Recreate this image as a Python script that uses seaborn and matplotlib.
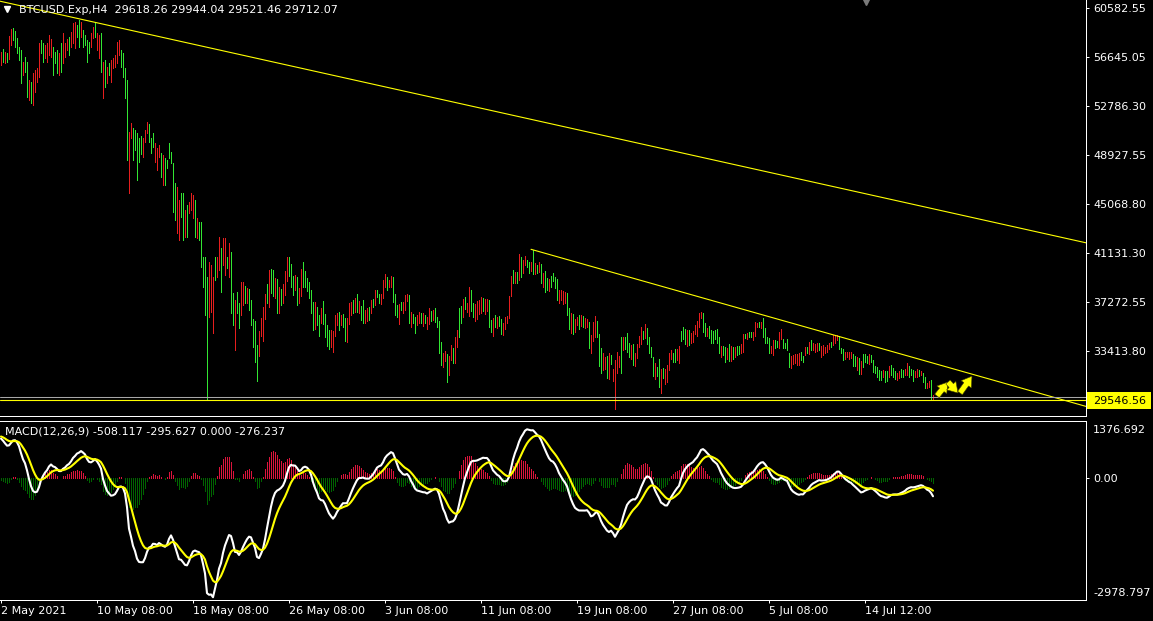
import numpy as np
import matplotlib
matplotlib.use("Agg")
import matplotlib.pyplot as plt
import seaborn as sns
from matplotlib.transforms import blended_transform_factory
from matplotlib.patches import Rectangle

# ---------------- data ----------------
symbol_text = "BTCUSD.Exp,H4  29618.26 29944.04 29521.46 29712.07"
macd_text = "MACD(12,26,9) -508.117 -295.627 0.000 -276.237"

bar_dir = ("RGRGRRGGGG" "GRGGRGRRRR" "GGRRRRGGGR" "GRRRGRRRGG" "RGGGGRRGRR"
           "GRGRGRRRRR" "GGGGRRGGGG" "GRRRGGGRRR" "GRGGGGGGRR" "GGRGRRRGRG"
           "GGGGRRRGRR" "GRRGRGGRGG" "RRGRGGGGGR" "RRRGRGGRGR" "GRRRGGGRGR"
           "RGGGGGGRGG" "RGGGGRRRRG" "RGGRRRGRGR" "GGRRGRGRGG" "RRRGRRGGGR"
           "GRRRGRGGRR" "GRGRRGRGGG" "GRRGRRGRRG" "GRGRRGGRRR" "RGRRGGRGRG"
           "GRRRRRGRGR" "GRRGGRGRGR" "GRGGRGGGGR" "RRRGGRGRRG" "RGRRGRRRGG"
           "GRRGRGRRRR" "GRGGGRGRRR" "RGRGGGGRGG" "RGRRRRGGRR" "GGGRGRRRRR"
           "RGGRGGGGGG" "RGGRGRGRGG" "RRGRGGRRRG" "RGGGGRRGGR" "RGGGGRRRRR"
           "GGRGRGRRRG" "RRRRRGRRRG" "GGRRRRGGRG" "RGGGRGGGGG" "GRGGRGGGRR"
           "GGRRGGGRRG" "RGGRRGR")

high = [57090, 57280, 57090, 57010, 58330, 58860, 58940, 58750, 58150, 57490,
        57220, 56300, 56690, 56300, 54850, 54710, 55370, 55640, 55770, 57750,
        58010, 57750, 57620, 57750, 58410, 58070, 57490, 57090, 57220, 56960,
        57750, 58540, 57750, 58070, 58280, 58670, 59330, 59470, 59200, 59600,
        59470, 58810, 58410, 58010, 57880, 58540, 59070, 59470, 58540, 58410,
        58540, 56300, 56430, 55900, 56170, 56430, 56560, 56830, 57880, 58010,
        57220, 56960, 55770, 54850, 50750, 51410, 51020, 50890, 50620, 50230,
        50410, 50230, 50890, 51550, 51360, 50230, 50620, 49830, 49430, 49700,
        49040, 48910, 48640, 48510, 49830, 49170, 48250, 46660, 46400, 45340,
        45870, 45870, 44550, 44950, 45210, 45870, 45740, 45340, 43890, 43630,
        43630, 40850, 40850, 39270, 40460, 40190, 39270, 40850, 40850, 42440,
        41510, 42310, 42310, 40850, 41910, 41250, 37950, 37420, 38080, 37160,
        38880, 38880, 38540, 38350, 38270, 37430, 35900, 35790, 33860, 35000,
        35980, 36900, 37900, 38690, 39800, 39860, 39800, 39140, 39060, 38480,
        38270, 38690, 39720, 40810, 40810, 40280, 39330, 39410, 39220, 38350,
        39860, 40410, 39720, 39140, 38830, 38220, 37300, 37240, 36850, 36240,
        36770, 37350, 36320, 35420, 35050, 35050, 35000, 36240, 36370, 36450,
        36240, 36320, 35980, 35980, 37220, 37300, 37430, 37560, 37900, 37370,
        36950, 37430, 36640, 36770, 36850, 37430, 37480, 38220, 38220, 37900,
        37900, 39010, 39490, 39280, 39010, 39330, 39280, 37900, 37030, 37110,
        37300, 37300, 37820, 37900, 37820, 36500, 36320, 36050, 36240, 36500,
        36370, 36370, 36240, 36050, 36770, 36580, 36640, 36770, 36050, 35790,
        34130, 33260, 33410, 33150, 32990, 33860, 33600, 34520, 35050, 36770,
        36950, 37480, 37640, 37220, 38480, 38220, 37220, 37110, 37370, 37430,
        37640, 37610, 37480, 37480, 37430, 35840, 35980, 36240, 36050, 36160,
        35900, 35580, 36110, 36160, 37740, 39330, 39800, 39670, 39670, 41070,
        40860, 40600, 40910, 40600, 40460, 40460, 41390, 40380, 40200, 40460,
        40280, 39540, 39720, 39140, 39060, 39330, 39590, 39220, 39060, 38220,
        38220, 38170, 38090, 38010, 36770, 36370, 36320, 35900, 36050, 36240,
        36240, 36160, 35980, 35900, 35710, 34660, 35710, 36160, 35790, 34730,
        33600, 33260, 32940, 32990, 33200, 33070, 31940, 32680, 33340, 32990,
        34470, 34470, 34520, 34840, 34000, 33860, 33940, 33200, 33940, 34580,
        35260, 35000, 35530, 35180, 34520, 33680, 32940, 32410, 32150, 32730,
        31940, 32020, 31940, 32280, 33260, 33470, 33260, 33520, 33520, 33780,
        35000, 35260, 35100, 35050, 35050, 34840, 35000, 35450, 35790, 36420,
        36500, 36420, 35630, 35180, 35370, 35050, 35000, 35050, 35100, 34520,
        33790, 33790, 33730, 33600, 33940, 33790, 33680, 33730, 33790, 33790,
        33940, 34740, 34740, 34840, 34920, 34920, 34920, 35710, 35630, 35710,
        35710, 35980, 35180, 34470, 34390, 33790, 34260, 34260, 34210, 34920,
        35100, 34310, 34050, 34310, 33260, 32990, 33070, 33150, 33150, 33200,
        33340, 32990, 33730, 33680, 34130, 34260, 34000, 33940, 34000, 34000,
        33790, 33860, 33730, 33860, 34050, 34130, 34660, 34660, 34660, 34580,
        33600, 33520, 33340, 33340, 33340, 33340, 33150, 32990, 32890, 32810,
        32620, 33150, 33150, 32990, 33150, 33070, 32680, 32200, 32150, 31880,
        31830, 31880, 31830, 31830, 32200, 32280, 32020, 31830, 31670, 31830,
        31940, 31880, 31940, 32410, 32200, 31940, 31880, 31830, 31940, 31880,
        31830, 31620, 31360, 30880, 31040, 31090, 29944]

low = [56030, 56300, 56170, 56300, 56480, 57620, 58010, 57490, 56960, 56430,
       54580, 55240, 55510, 53530, 53260, 53000, 52870, 53920, 54710, 55110,
       56960, 56300, 56560, 56300, 56830, 56690, 55240, 56170, 55370, 55240,
       55510, 56170, 56690, 57220, 56830, 57490, 57750, 57350, 58280, 57490,
       58280, 57490, 57620, 56300, 56960, 57490, 58150, 58280, 57220, 56560,
       55510, 53390, 54320, 54580, 55240, 54710, 55770, 55900, 56170, 56830,
       55900, 55110, 53390, 48510, 45870, 50230, 48510, 49300, 46930, 48380,
       48990, 48770, 49960, 50620, 49960, 49040, 49570, 48380, 47720, 48770,
       47190, 46530, 46530, 47850, 48640, 48250, 44420, 43760, 42700, 42170,
       44020, 42170, 42440, 42440, 44290, 44550, 43890, 42440, 42310, 42170,
       40060, 38480, 36230, 29600, 36100, 36500, 34780, 39010, 39270, 39800,
       38080, 40190, 39400, 39930, 39270, 36370, 35440, 33460, 36370, 35180,
       36240, 37030, 37160, 37160, 36640, 35450, 33730, 32540, 31040, 32990,
       34580, 34210, 35900, 37220, 36850, 37960, 37770, 37560, 36420, 36420,
       37030, 37220, 37820, 38960, 39330, 38430, 37820, 38220, 37030, 37160,
       37740, 38430, 38480, 38170, 37560, 36420, 35050, 35130, 35450, 34580,
       35580, 35530, 34470, 33780, 33520, 33730, 33340, 34580, 35450, 35050,
       35450, 35320, 34180, 34130, 35530, 36240, 36420, 36500, 36500, 36420,
       35840, 35630, 35630, 35790, 35840, 36420, 36850, 37030, 37640, 37220,
       37110, 37560, 38430, 38220, 38430, 38480, 37300, 36240, 36110, 35530,
       36640, 36420, 36640, 37370, 35630, 35260, 35580, 34790, 35450, 35630,
       35630, 35370, 35630, 35100, 35530, 35790, 35840, 35710, 35320, 33200,
       32280, 32090, 32620, 30960, 31490, 32680, 32410, 32460, 33730, 34520,
       35630, 36110, 36690, 36500, 36160, 36580, 36110, 35790, 35900, 36320,
       36420, 36580, 36320, 36580, 35260, 34920, 34580, 35260, 35180, 35370,
       34730, 34660, 35100, 35630, 35980, 37740, 38750, 38750, 38800, 39010,
       39280, 39590, 40200, 40010, 39540, 39750, 39490, 39490, 39540, 39670,
       38800, 38480, 38090, 38220, 38170, 38480, 38960, 38350, 37430, 37160,
       37430, 37110, 37160, 36240, 35100, 34790, 34730, 34920, 35450, 35100,
       35370, 35260, 35180, 35260, 33600, 33260, 34210, 34520, 34520, 32200,
       31670, 31880, 31940, 31220, 31140, 32360, 31040, 28800, 31670, 32090,
       31670, 33470, 33520, 33340, 32940, 32730, 32280, 32200, 32810, 33680,
       33940, 34310, 34390, 33940, 33200, 32940, 31410, 31140, 31410, 30510,
       30090, 31220, 30770, 30960, 31880, 32730, 32540, 32540, 32680, 32410,
       34210, 34310, 33940, 33780, 33860, 34050, 34130, 34730, 34580, 35260,
       35980, 34920, 34580, 34580, 34390, 34050, 34000, 34310, 34050, 33200,
       32940, 33070, 32540, 32730, 32620, 32620, 32730, 32940, 33070, 33150,
       33200, 33340, 34390, 34310, 34520, 34470, 34260, 34580, 35320, 35260,
       35180, 34520, 34000, 34000, 33200, 33200, 33070, 33600, 33680, 33600,
       34310, 33600, 33600, 33470, 32150, 32020, 32360, 32470, 32280, 32280,
       32680, 32540, 33070, 33260, 33150, 33470, 33470, 33340, 33410, 33470,
       32940, 33070, 33260, 33340, 33520, 33680, 33860, 34000, 34260, 33520,
       33260, 32680, 32730, 32890, 32730, 32810, 32200, 32200, 31880, 31570,
       31570, 32100, 32540, 32470, 32360, 32540, 31750, 31670, 31300, 31090,
       31090, 31300, 30960, 31040, 31360, 31490, 31300, 31150, 31090, 31220,
       31300, 31360, 31490, 31490, 31360, 31490, 31040, 31300, 31360, 31410,
       31490, 30960, 30430, 30430, 30560, 29510, 29521]

price_ticks = [60582.55, 56645.05, 52786.30, 48927.55, 45068.80, 41131.30, 37272.55, 33413.80]
price_labels = ["60582.55", "56645.05", "52786.30", "48927.55", "45068.80", "41131.30", "37272.55", "33413.80"]
time_tick_bars = [0, 48, 96, 144, 192, 240, 288, 336, 384, 432]
time_labels = ["2 May 2021", "10 May 08:00", "18 May 08:00", "26 May 08:00", "3 Jun 08:00",
               "11 Jun 08:00", "19 Jun 08:00", "27 Jun 08:00", "5 Jul 08:00", "14 Jul 12:00"]
macd_max, macd_min = 1376.692, -2978.797
macd_max_label, macd_zero_label, macd_min_label = "1376.692", "0.00", "-2978.797"

upper_trend_bar = [-0.5, 542.5]
upper_trend_price = [61087, 41957]
lower_trend_bar = [265.0, 542.5]
lower_trend_price = [41442, 29003]
hline_price = 29546.56
hline_label = "29546.56"
bid_price = 29712.07
arrow_bars = [(468, 473.5), (473.5, 478.5), (479.5, 485.5)]
arrow_prices = [(29830, 30935), (30935, 30064), (30064, 31400)]
macd_start, signal_start = 950.0, 1000.0
price_top, price_bottom = 61182, 28243

# ---------------- indicator ----------------
high_a = np.array(high, float)
low_a = np.array(low, float)
mid = (high_a + low_a) / 2
n = len(mid)
idx = np.arange(n)
fast = np.empty(n); slow = np.empty(n); sig = np.empty(n)
fast[0] = mid[0]; slow[0] = mid[0] - macd_start
af, as_, asg = 2 / 13, 2 / 27, 2 / 10
for i in range(1, n):
    fast[i] = fast[i - 1] + af * (mid[i] - fast[i - 1])
    slow[i] = slow[i - 1] + as_ * (mid[i] - slow[i - 1])
macd = fast - slow
sig[0] = signal_start
for i in range(1, n):
    sig[i] = sig[i - 1] + asg * (macd[i] - sig[i - 1])
hist = macd - sig

# ---------------- figure ----------------
sns.set_style("dark", {"axes.facecolor": "black", "figure.facecolor": "black"})
plt.rcParams["font.family"] = ["DejaVu Sans"]
W, H = 1153, 621
fig = plt.figure(figsize=(W / 100, H / 100), dpi=100, facecolor="black")
ax = fig.add_axes([0, (H - 416) / H, 1086 / W, 416 / H])
ax2 = fig.add_axes([0, (H - 600) / H, 1086 / W, 179 / H])
for a in (ax, ax2):
    a.set_facecolor("black")
    a.grid(False)
    a.set_xlim(-0.5, 542.5)
    for s in a.spines.values():
        s.set_color("white"); s.set_linewidth(0.72)
    a.spines["left"].set_visible(False)
ax.spines["top"].set_visible(False)

up_col, dn_col = "#32e632", "#e61e1e"
cols = [up_col if c == "G" else dn_col for c in bar_dir]
ax.vlines(idx, low_a, high_a, colors=cols, linewidth=0.5, antialiased=False, snap=True)
ax.set_ylim(price_bottom, price_top)

ax.plot(upper_trend_bar, upper_trend_price, color="yellow", lw=0.8)
ax.plot(lower_trend_bar, lower_trend_price, color="yellow", lw=0.8)
ax.axhline(bid_price, color="#a8a8a8", lw=0.75)
ax.axhline(hline_price, color="yellow", lw=0.8)
for (b0, b1), (p0, p1) in zip(arrow_bars, arrow_prices):
    ax.annotate("", xy=(b1, p1), xytext=(b0, p0),
                arrowprops=dict(arrowstyle="simple,head_length=0.6,head_width=0.75,tail_width=0.35",
                                fc="yellow", ec="#404000", lw=0.4, mutation_scale=12,
                                shrinkA=0, shrinkB=0))

ax.yaxis.tick_right()
ax.set_yticks(price_ticks, price_labels)
ax.set_xticks([])
ax.tick_params(axis="y", colors="white", labelcolor="white", length=2.2, width=0.72,
               pad=3, labelsize=8, direction="out", right=True, left=False)

# price label box for the horizontal line
fig.patches.append(Rectangle((1087 / W, 1 - 409 / H), 64 / W, 17 / H, transform=fig.transFigure,
                             facecolor="yellow", edgecolor="none", zorder=2))
fig.text(1093 / W, 1 - 400.5 / H, hline_label, color="black", fontsize=8,
         va="center", ha="left", zorder=5)

# MACD panel
ax2.vlines(idx, 0, hist, colors=["#dc143c" if v > 0 else "#006400" for v in hist],
           linewidth=0.5, antialiased=False, snap=True)
sns.lineplot(x=idx, y=macd, ax=ax2, color="white", linewidth=1.5)
sns.lineplot(x=idx, y=sig, ax=ax2, color="yellow", linewidth=1.5)
ax2.set_ylim(macd_min, macd_max)
ax2.set_xlim(-0.5, 542.5)
ax2.yaxis.tick_right()
ax2.set_yticks([0.0], [macd_zero_label])
ax2.tick_params(axis="y", colors="white", labelcolor="white", length=2.2, width=0.72,
                pad=3, labelsize=8, right=True, left=False)
t2 = blended_transform_factory(ax2.transAxes, ax2.transAxes)
ax2.text(1093 / 1086, 0.975, macd_max_label, transform=t2, color="white", fontsize=8, va="top", ha="left")
ax2.text(1093 / 1086, 0.01, macd_min_label, transform=t2, color="white", fontsize=8, va="bottom", ha="left")
ax2.set_xticks(time_tick_bars, time_labels)
ax2.tick_params(axis="x", colors="white", labelcolor="white", length=2.5, width=0.72,
                pad=1.5, labelsize=8, bottom=True, direction="out")
for lbl in ax2.get_xticklabels():
    lbl.set_ha("left")
ax2.set_xlabel(""); ax2.set_ylabel("")

# header texts
fig.text(19 / W, 1 - 10 / H, symbol_text, color="white", fontsize=8, va="center", ha="left")
fig.text(5 / W, 1 - 431 / H, macd_text, color="white", fontsize=8, va="center", ha="left")
fig.lines.append(plt.Line2D([7 / W], [1 - 9 / H], marker="v", color="white", markersize=5,
                            transform=fig.transFigure, linestyle="none"))
fig.lines.append(plt.Line2D([866 / W], [1 - 2 / H], marker="v", color="#7a7a7a", markersize=5,
                            transform=fig.transFigure, linestyle="none"))

fig.savefig("out.png", dpi=100, facecolor="black")
